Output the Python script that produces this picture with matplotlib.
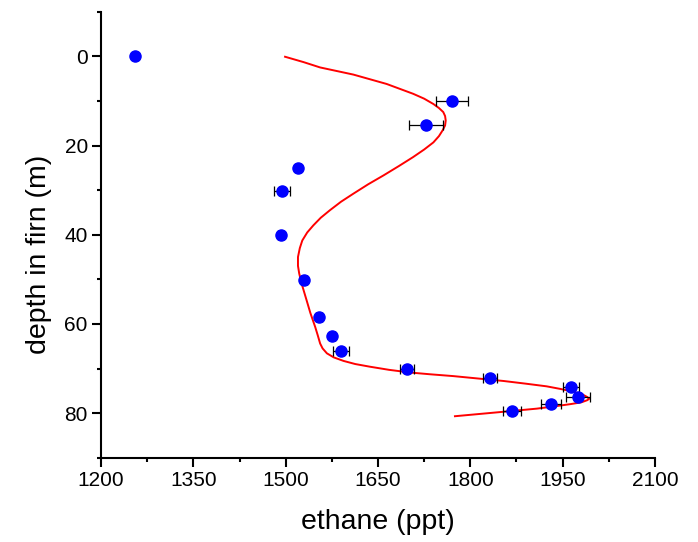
import matplotlib
matplotlib.use("Agg")
import matplotlib.pyplot as plt
from matplotlib.ticker import MultipleLocator

plt.rcParams['font.family'] = ['Liberation Sans', 'DejaVu Sans']

# measured firn air samples
depth = [0.0, 10.1, 15.5, 25.0, 30.1, 40.0, 50.1, 58.4, 62.8, 66.0,
         70.1, 72.1, 74.2, 76.3, 77.9, 79.6]
ethane = [1256, 1771, 1728, 1520, 1494, 1492, 1530, 1554, 1576, 1590,
          1697, 1832, 1963, 1975, 1931, 1868]
ethane_err = [3, 26, 28, 4, 13, 4, 5, 5, 4, 13,
              12, 12, 13, 19, 16, 15]

# model curve
model_depth = [0.1, 1.3, 2.5, 4.1, 6.2, 8.4, 9.5, 10.7, 11.6, 12.5,
               13.4, 14.4, 15.5, 16.6, 17.9, 19.3, 20.9, 22.6, 24.6, 26.7,
               28.7, 30.8, 32.6, 34.5, 36.2, 37.9, 39.5, 41.3, 43.0, 45.0,
               47.0, 48.7, 51.0, 54.7, 57.5, 60.7, 62.5, 64.4, 65.5, 66.6,
               67.5, 68.3, 69.0, 69.6, 70.3, 70.9, 71.3, 71.7, 72.8, 73.4,
               74.0, 74.6, 75.2, 75.8, 76.4, 76.8, 77.1, 77.6, 78.0, 78.5,
               79.0, 79.7, 80.7]
model_ethane = [1499, 1529, 1556, 1610, 1664, 1707, 1725, 1740, 1749, 1756,
                1759, 1760, 1759, 1755, 1749, 1740, 1725, 1707, 1684, 1659,
                1634, 1610, 1590, 1572, 1557, 1545, 1535, 1527, 1523, 1520,
                1520, 1522, 1526, 1534, 1540, 1548, 1552, 1556, 1560, 1567,
                1578, 1594, 1613, 1637, 1668, 1702, 1735, 1772, 1854, 1890,
                1924, 1947, 1967, 1982, 1990, 1993, 1990, 1980, 1962, 1936,
                1908, 1854, 1775]

fig = plt.figure(figsize=(6.98, 5.42), dpi=100)
ax = fig.add_axes([101 / 698, 1 - 457.7 / 542, 554 / 698, 446 / 542])

ax.plot(model_ethane, model_depth, color='red', lw=1.4, zorder=2)
ax.errorbar(ethane, depth, xerr=ethane_err, fmt='none', ecolor='black',
            elinewidth=0.9, capsize=3.3, capthick=0.9, zorder=3)
ax.plot(ethane, depth, 'o', color='#0000ff', markersize=8, zorder=4)

ax.set_xlim(1200, 2100)
ax.set_ylim(90, -10)
ax.xaxis.set_major_locator(MultipleLocator(150))
ax.xaxis.set_minor_locator(MultipleLocator(75))
ax.yaxis.set_minor_locator(MultipleLocator(10))
ax.set_yticks([0, 20, 40, 60, 80])

for s in ['top', 'right']:
    ax.spines[s].set_visible(False)
for s in ['left', 'bottom']:
    ax.spines[s].set_linewidth(1.5)

ax.tick_params(which='major', direction='out', length=6.5, width=1.5,
               labelsize=15, pad=3)
ax.tick_params(which='minor', direction='out', length=3, width=1.5)

ax.set_xlabel('ethane (ppt)', fontsize=20.5, labelpad=14)
ax.set_ylabel('depth in firn (m)', fontsize=20.5)
ax.yaxis.set_label_coords(-0.089, 0.456)

fig.savefig('out.png', dpi=100)
